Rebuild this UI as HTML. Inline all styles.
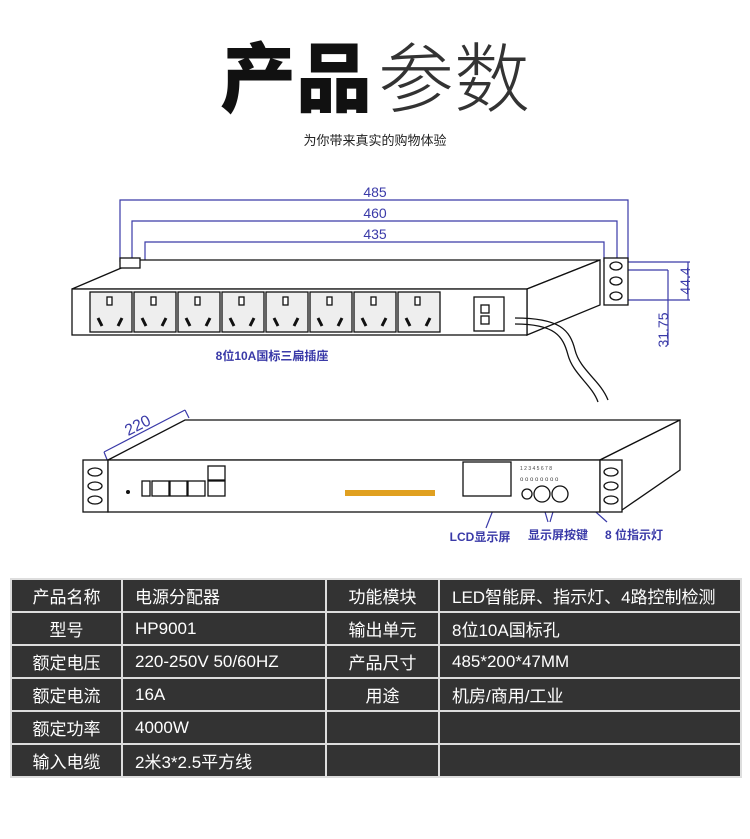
<!DOCTYPE html>
<html><head><meta charset="utf-8"><style>
body{margin:0;width:750px;height:839px;background:#fff;overflow:hidden;position:relative;font-family:"Liberation Sans","Noto Sans CJK SC",sans-serif}
.h{position:absolute;top:38px;left:0;width:750px;text-align:center;font-size:76px;line-height:86px;color:#111}
.h b{font-weight:900}.h span{font-weight:200;color:#333;margin-left:6px}
.sub{position:absolute;top:130px;width:750px;text-align:center;font-size:13px;color:#222}
table{position:absolute;left:10px;top:578px;border-collapse:collapse;width:732px}
td{background:#333;color:#fff;height:31px;border:2px solid #ddd;font-size:17px;padding:0 0 0 12px;white-space:nowrap}
td.c{text-align:center;padding:0}
</style></head><body>
<div class="h"><b>产品</b><span>参数</span></div>
<div class="sub">为你带来真实的购物体验</div>
<svg width="750" height="570" style="position:absolute;left:0;top:0" font-family="Liberation Sans,Noto Sans CJK SC,sans-serif">
<g stroke="#3a3aa8" stroke-width="1.2" fill="none">
<path d="M120 262V200H628V262M132 262V221H617V262M145 262V242H604V262"/>
<path d="M615 262H690M615 300H690M688 262V300M615 270H668M668 270V345"/>
<path d="M104 452L185 410M104 452L108 462M185 410L189 418"/>
<path d="M497 500L486 528M540 495L548 522M558 495L550 522M560 480L607 522"/>
</g>
<g fill="#3a3aa8" font-size="14" text-anchor="middle">
<text x="375" y="197">485</text><text x="375" y="218">460</text><text x="375" y="239">435</text>
<text x="690" y="281" transform="rotate(-90 690 281)">44.4</text>
<text x="668" y="330" transform="rotate(-90 668 330)">31.75</text>
<text x="140" y="430" transform="rotate(-27 140 430)" font-size="16">220</text>
<text x="272" y="360" font-size="12" font-weight="bold">8位10A国标三扁插座</text>
<text x="480" y="541" font-size="12" font-weight="bold">LCD显示屏</text>
<text x="558" y="539" font-size="12" font-weight="bold">显示屏按键</text>
<text x="634" y="539" font-size="12" font-weight="bold">8 位指示灯</text>
</g>
<g stroke="#111" stroke-width="1.3" fill="#fff">
<path d="M72 289L140 260H600L527 289Z"/>
<path d="M527 289L600 260V305L527 335Z"/>
<rect x="72" y="289" width="455" height="46"/>
<rect x="120" y="258" width="20" height="10"/>
<rect x="604" y="258" width="24" height="47"/>
<ellipse cx="616" cy="266" rx="6" ry="4"/><ellipse cx="616" cy="281" rx="6" ry="4"/><ellipse cx="616" cy="296" rx="6" ry="4"/>
<g id="s"><rect x="90" y="292" width="42" height="40" fill="#eee"/><rect x="107" y="297" width="5" height="8"/><path d="M98 318l4 8M122 318l-4 8" stroke-width="3"/></g>
<use href="#s" x="44"/><use href="#s" x="88"/><use href="#s" x="132"/><use href="#s" x="176"/><use href="#s" x="220"/><use href="#s" x="264"/><use href="#s" x="308"/>
<rect x="474" y="297" width="30" height="34"/><rect x="481" y="305" width="8" height="8"/><rect x="481" y="316" width="8" height="8"/>
<path d="M515 318C560 318 570 330 575 350S600 380 608 400M515 324C555 324 563 336 568 355S592 385 598 402" fill="none"/>
<path d="M108 460L185 420H680L600 460Z"/>
<path d="M600 460L680 420V470L622 510"/>
<rect x="83" y="460" width="25" height="52"/><rect x="108" y="460" width="492" height="52"/><rect x="600" y="460" width="22" height="52"/>
<ellipse cx="95" cy="472" rx="7" ry="4"/><ellipse cx="95" cy="486" rx="7" ry="4"/><ellipse cx="95" cy="500" rx="7" ry="4"/>
<ellipse cx="611" cy="472" rx="7" ry="4"/><ellipse cx="611" cy="486" rx="7" ry="4"/><ellipse cx="611" cy="500" rx="7" ry="4"/>
<rect x="142" y="481" width="8" height="15"/><rect x="152" y="481" width="17" height="15"/><rect x="170" y="481" width="17" height="15"/><rect x="188" y="481" width="17" height="15"/><rect x="208" y="481" width="17" height="15"/><rect x="208" y="466" width="17" height="14"/>
<rect x="463" y="462" width="48" height="34"/>
<circle cx="527" cy="494" r="5"/><circle cx="542" cy="494" r="8"/><circle cx="560" cy="494" r="8"/>
</g>
<circle cx="128" cy="492" r="2" fill="#111"/>
<rect x="345" y="490" width="90" height="6" fill="#e0a020"/>
<g fill="#444"><text x="520" y="470" font-size="5">1 2 3 4 5 6 7 8</text><text x="520" y="481" font-size="6">o o o o o o o o</text></g>
</svg>
<table>
<tr><td class="c" style="width:109px">产品名称</td><td style="width:190px">电源分配器</td><td class="c" style="width:111px">功能模块</td><td>LED智能屏、指示灯、4路控制检测</td></tr>
<tr><td class="c">型号</td><td>HP9001</td><td class="c">输出单元</td><td>8位10A国标孔</td></tr>
<tr><td class="c">额定电压</td><td>220-250V 50/60HZ</td><td class="c">产品尺寸</td><td>485*200*47MM</td></tr>
<tr><td class="c">额定电流</td><td>16A</td><td class="c">用途</td><td>机房/商用/工业</td></tr>
<tr><td class="c">额定功率</td><td>4000W</td><td></td><td></td></tr>
<tr><td class="c">输入电缆</td><td>2米3*2.5平方线</td><td></td><td></td></tr>
</table>
</body></html>
